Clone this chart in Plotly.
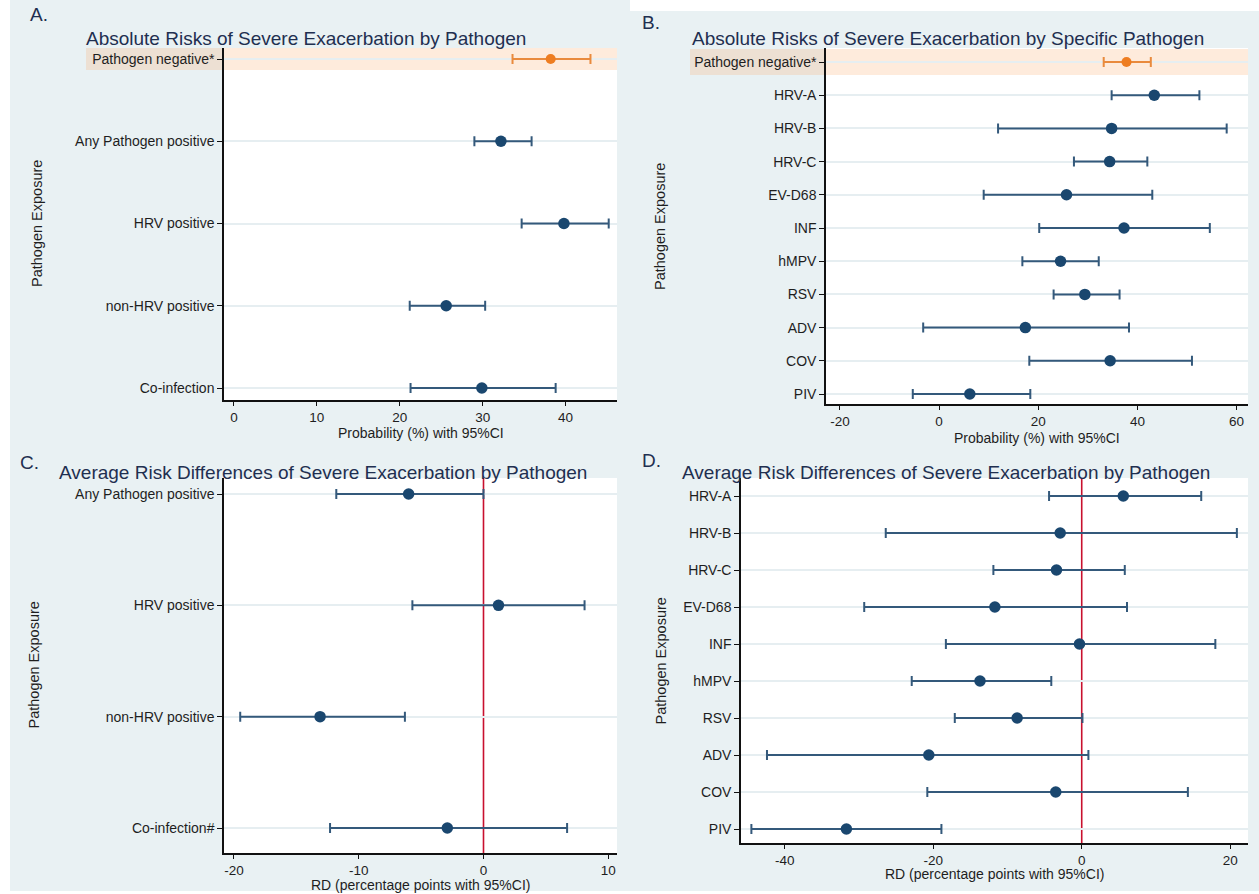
import plotly.graph_objects as go

W, H = 1259, 894

# ---- Panel A: absolute risks by pathogen group ----
a_labels = ["Pathogen negative*", "Any Pathogen positive", "HRV positive",
            "non-HRV positive", "Co-infection"]
a_est = [38.2, 32.2, 39.8, 25.6, 29.9]
a_lo = [33.6, 29.0, 34.7, 21.2, 21.3]
a_hi = [43.0, 35.9, 45.2, 30.3, 38.8]
a_ticks = [0, 10, 20, 30, 40]

# ---- Panel B: absolute risks by specific pathogen ----
b_labels = ["Pathogen negative*", "HRV-A", "HRV-B", "HRV-C", "EV-D68", "INF",
            "hMPV", "RSV", "ADV", "COV", "PIV"]
b_est = [37.8, 43.4, 34.8, 34.4, 25.7, 37.3, 24.5, 29.4, 17.4, 34.5, 6.2]
b_lo = [33.2, 34.8, 11.9, 27.2, 9.0, 20.2, 16.8, 23.1, -3.2, 18.2, -5.3]
b_hi = [42.7, 52.5, 58.0, 42.0, 43.0, 54.6, 32.2, 36.4, 38.3, 51.0, 18.4]
b_ticks = [-20, 0, 20, 40, 60]

# ---- Panel C: risk differences by pathogen group ----
c_labels = ["Any Pathogen positive", "HRV positive", "non-HRV positive", "Co-infection#"]
c_est = [-6.0, 1.2, -13.1, -2.9]
c_lo = [-11.8, -5.7, -19.5, -12.3]
c_hi = [0.0, 8.1, -6.3, 6.7]
c_ticks = [-20, -10, 0, 10]

# ---- Panel D: risk differences by specific pathogen ----
d_labels = ["HRV-A", "HRV-B", "HRV-C", "EV-D68", "INF", "hMPV", "RSV", "ADV", "COV", "PIV"]
d_est = [5.6, -2.9, -3.4, -11.7, -0.3, -13.7, -8.7, -20.6, -3.5, -31.7]
d_lo = [-4.4, -26.4, -11.9, -29.3, -18.3, -22.9, -17.1, -42.4, -20.8, -44.5]
d_hi = [16.1, 20.9, 5.8, 6.1, 18.0, -4.1, 0.1, 0.9, 14.3, -18.9]
d_ticks = [-40, -20, 0, 20]

FONT = "Liberation Sans, Arial, Helvetica, sans-serif"
BG = "#E9F1F3"
NAVY = "#1A476F"
NAVY_LINE = "#34597B"
ORANGE = "#EE7D21"
ORANGE_LINE = "#E98A3D"
TITLE_C = "#1F2F50"
TEXT_C = "#1E1E1E"


def fx(p):
    return p / W


def fy(p):
    return 1 - p / H


# panel geometry in pixels: plot box (left, right, top, bottom), first/last row centres
panels = [
    dict(ax="", labels=a_labels, est=a_est, lo=a_lo, hi=a_hi, ticks=a_ticks,
         box=(224, 617, 48, 400), rows=(59, 388), xrange=[-1.2, 46.2],
         letter=("A.", 28, 14), title=("Absolute Risks of Severe Exacerbation by Pathogen", 84, 39),
         xtitle=("Probability (%) with 95%CI", 433), ytitle_x=37,
         highlight=True, band_left=86, band_half=0.135, ref0=False),
    dict(ax="2", labels=b_labels, est=b_est, lo=b_lo, hi=b_hi, ticks=b_ticks,
         box=(826, 1248, 48, 404), rows=(62, 394), xrange=[-22.8, 62.3],
         letter=("B.", 640, 22), title=("Absolute Risks of Severe Exacerbation by Specific Pathogen", 690, 39),
         xtitle=("Probability (%) with 95%CI", 438), ytitle_x=660,
         highlight=True, band_left=690, band_half=0.39, ref0=False),
    dict(ax="3", labels=c_labels, est=c_est, lo=c_lo, hi=c_hi, ticks=c_ticks,
         box=(224, 617, 478, 853), rows=(494, 828), xrange=[-20.8, 10.7],
         letter=("C.", 18, 462), title=("Average Risk Differences of Severe Exacerbation by Pathogen", 57, 472),
         xtitle=("RD (percentage points with 95%CI)", 885), ytitle_x=33,
         highlight=False, ref0=True),
    dict(ax="4", labels=d_labels, est=d_est, lo=d_lo, hi=d_hi, ticks=d_ticks,
         box=(741, 1248, 478, 843), rows=(496, 829), xrange=[-45.9, 22.4],
         letter=("D.", 640, 460), title=("Average Risk Differences of Severe Exacerbation by Pathogen", 680, 472),
         xtitle=("RD (percentage points with 95%CI)", 874), ytitle_x=660,
         highlight=False, ref0=True),
]

fig = go.Figure()
shapes = []
annotations = []

# outer graph region
shapes.append(dict(type="rect", xref="paper", yref="paper", x0=fx(10), x1=1, y0=fy(891), y1=1,
                   fillcolor=BG, line_width=0, layer="below"))
shapes.append(dict(type="rect", xref="paper", yref="paper", x0=fx(630), x1=1, y0=fy(11), y1=1,
                   fillcolor="white", line_width=0, layer="below"))

layout_axes = {}
for p in panels:
    n = len(p["labels"])
    left, right, top, bottom = p["box"]
    r0, r1 = p["rows"]
    step = (r1 - r0) / (n - 1)
    ypos = [n - 1 - i for i in range(n)]
    yrange = [-(bottom - r1) / step, (n - 1) + (r0 - top) / step]

    xa = "xaxis" + p["ax"]
    ya = "yaxis" + p["ax"]
    xid = "x" + p["ax"]
    yid = "y" + p["ax"]

    layout_axes[xa] = dict(
        domain=[fx(left), fx(right)], anchor=yid, range=p["xrange"],
        tickvals=p["ticks"], ticktext=[str(t) for t in p["ticks"]],
        showgrid=False, zeroline=False, showline=True, linecolor="#111", linewidth=1.5,
        ticks="outside", ticklen=4, tickwidth=1.3, tickcolor="#111",
        tickfont=dict(family=FONT, size=13.5, color=TEXT_C), fixedrange=True,
    )
    layout_axes[ya] = dict(
        domain=[fy(bottom), fy(top)], anchor=xid, range=yrange,
        tickvals=ypos, ticktext=p["labels"],
        showgrid=True, gridcolor="#E6EEF1", gridwidth=1.5, zeroline=False,
        showline=True, linecolor="#111", linewidth=1.5,
        ticks="outside", ticklen=5, tickwidth=1.3, tickcolor="#111",
        tickfont=dict(family=FONT, size=14, color=TEXT_C), fixedrange=True,
    )

    # white plot region
    shapes.append(dict(type="rect", xref="paper", yref="paper", x0=fx(left), x1=fx(right),
                       y0=fy(bottom), y1=fy(top), fillcolor="white", line_width=0, layer="below"))

    # highlighted reference row (pathogen negative)
    if p["highlight"]:
        yc = ypos[0]
        shapes.append(dict(type="rect", xref="paper", yref=yid, x0=fx(p["band_left"]), x1=fx(right),
                           y0=yc - p["band_half"], y1=yc + p["band_half"],
                           fillcolor="rgba(250,170,110,0.24)", line_width=0, layer="below"))
        shapes.append(dict(type="line", xref="paper", yref=yid, x0=fx(left), x1=fx(right),
                           y0=yc, y1=yc, line=dict(color="rgba(245,150,90,0.35)", width=1.5),
                           layer="below"))

    # vertical reference line at zero difference
    if p["ref0"]:
        shapes.append(dict(type="line", xref=xid, yref=yid, x0=0, x1=0,
                           y0=yrange[0], y1=yrange[1],
                           line=dict(color="#C8102E", width=1.6), layer="below"))

    est, lo, hi = p["est"], p["lo"], p["hi"]
    if p["highlight"]:
        groups = [(range(0, 1), ORANGE, ORANGE_LINE, 10), (range(1, n), NAVY, NAVY_LINE, 11.5)]
    else:
        groups = [(range(0, n), NAVY, NAVY_LINE, 11.5)]
    for idx, mcol, lcol, msize in groups:
        idx = list(idx)
        fig.add_trace(go.Scatter(
            x=[est[i] for i in idx], y=[ypos[i] for i in idx],
            mode="markers", xaxis=xid, yaxis=yid, showlegend=False, hoverinfo="skip",
            marker=dict(size=msize, color=mcol, line_width=0),
            error_x=dict(type="data", symmetric=False,
                         array=[hi[i] - est[i] for i in idx],
                         arrayminus=[est[i] - lo[i] for i in idx],
                         color=lcol, thickness=2, width=5),
        ))

    # panel letter, title, axis titles
    letter, lx, ly = p["letter"]
    annotations.append(dict(text=letter, xref="paper", yref="paper", x=fx(lx), y=fy(ly),
                            xanchor="left", yanchor="middle", showarrow=False,
                            font=dict(family=FONT, size=19, color=TITLE_C)))
    title, tx, ty = p["title"]
    annotations.append(dict(text=title, xref="paper", yref="paper", x=fx(tx), y=fy(ty),
                            xanchor="left", yanchor="middle", showarrow=False,
                            font=dict(family=FONT, size=19, color=TITLE_C)))
    xt, xty = p["xtitle"]
    annotations.append(dict(text=xt, xref="paper", yref="paper", x=fx((left + right) / 2), y=fy(xty),
                            xanchor="center", yanchor="middle", showarrow=False,
                            font=dict(family=FONT, size=14, color=TEXT_C)))
    annotations.append(dict(text="Pathogen Exposure", xref="paper", yref="paper",
                            x=fx(p["ytitle_x"]), y=fy((top + bottom) / 2), textangle=-90,
                            xanchor="center", yanchor="middle", showarrow=False,
                            font=dict(family=FONT, size=14.5, color=TEXT_C)))

fig.update_layout(
    width=W, height=H, margin=dict(l=0, r=0, t=0, b=0),
    paper_bgcolor="white", plot_bgcolor="rgba(0,0,0,0)",
    shapes=shapes, annotations=annotations, showlegend=False,
    **layout_axes,
)

fig.write_html("out.html", config={"displayModeBar": False})
